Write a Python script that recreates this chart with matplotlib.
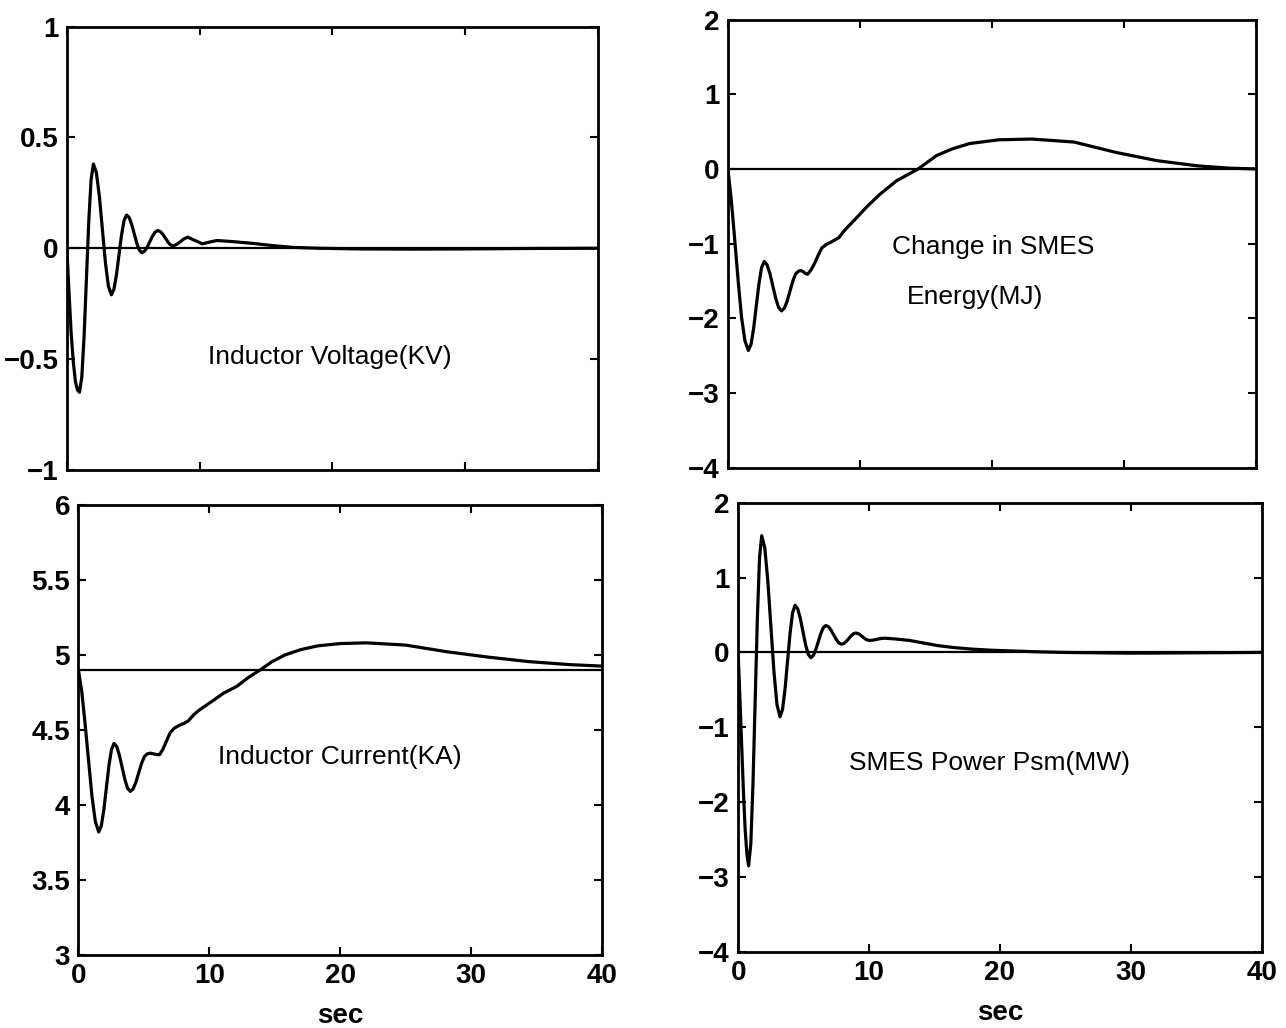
import matplotlib
matplotlib.use("Agg")
import matplotlib.pyplot as plt

plt.rcParams['font.family'] = ['Liberation Sans', 'DejaVu Sans']

# Inductor voltage (kV)
t_volt = [0, 0.16, 0.32, 0.48, 0.64, 0.8, 0.95,
          1.125, 1.3, 1.475, 1.65, 1.825, 2.0,
          2.225, 2.45, 2.675, 2.9, 3.125, 3.35,
          3.542, 3.733, 3.925, 4.117, 4.308, 4.5,
          4.692, 4.883, 5.075, 5.267, 5.458, 5.65,
          5.85, 6.05, 6.25, 6.45, 6.65, 6.85,
          7.04, 7.23, 7.43, 7.62, 7.81, 8.0,
          8.28, 8.55, 8.83, 9.1, 9.65, 10.2, 10.75, 11.3,
          12.5, 14, 15.5, 17, 19, 22, 26, 30, 35, 40]
v_volt = [0, -0.2, -0.38, -0.51, -0.6, -0.64, -0.65,
          -0.581, -0.3925, -0.135, 0.1225, 0.311, 0.38,
          0.3405, 0.2325, 0.085, -0.0625, -0.1705, -0.21,
          -0.186, -0.12, -0.03, 0.06, 0.126, 0.15,
          0.139, 0.1075, 0.065, 0.0225, -0.009, -0.02,
          -0.013, 0.005, 0.03, 0.055, 0.073, 0.08,
          0.075, 0.0625, 0.045, 0.0275, 0.015, 0.01,
          0.018, 0.03, 0.043, 0.05, 0.035, 0.02, 0.028, 0.035,
          0.03, 0.022, 0.012, 0.004, 0.0, -0.003, -0.004, -0.003, -0.001, 0]

# Change in SMES energy (MJ)
t_energy = [0, 0.26, 0.52, 0.78, 1.03, 1.29, 1.55,
            1.75, 1.95, 2.15, 2.35, 2.55, 2.75,
            2.968, 3.187, 3.405, 3.623, 3.842, 4.06,
            4.273, 4.487, 4.7, 4.913, 5.127, 5.34,
            5.52, 5.7, 5.87, 6.03, 6.3, 6.6, 6.85, 7.1, 7.45, 7.8, 8.1, 8.4,
            8.7, 9.0, 9.6, 10.5, 11.5, 12.75, 14.4, 15.8, 17, 18.3, 20.5, 23,
            26.2, 29.4, 32.5, 35.6, 38, 40]
v_energy = [0, -0.42, -0.95, -1.5, -1.98, -2.3, -2.43,
            -2.35, -2.1325, -1.835, -1.5375, -1.32, -1.24,
            -1.284, -1.405, -1.57, -1.735, -1.856, -1.9,
            -1.865, -1.7675, -1.635, -1.5025, -1.405, -1.37,
            -1.36, -1.375, -1.4, -1.41, -1.35, -1.25, -1.15, -1.06, -1.01, -0.98, -0.95, -0.92,
            -0.85, -0.79, -0.68, -0.51, -0.34, -0.16, 0.0, 0.18, 0.27, 0.34, 0.39, 0.40,
            0.36, 0.22, 0.11, 0.04, 0.01, 0.0]

# Inductor current (kA)
t_curr = [0, 0.26, 0.52, 0.78, 1.03, 1.29, 1.55,
          1.745, 1.94, 2.135, 2.33, 2.525, 2.72,
          2.927, 3.133, 3.34, 3.547, 3.753, 3.96,
          4.177, 4.393, 4.61, 4.827, 5.043, 5.26,
          5.5, 5.75, 6.0, 6.2, 6.45, 6.7, 7.0, 7.3, 7.7, 8.1, 8.4, 8.8, 9.2,
          10.2, 11.1, 12.1, 13, 13.9, 14.8, 15.8, 17, 18.3, 20, 22, 25, 28.2,
          31.3, 34.4, 37.5, 40]
v_curr = [4.9, 4.75, 4.53, 4.29, 4.06, 3.89, 3.82,
          3.86, 3.9675, 4.115, 4.2625, 4.37, 4.41,
          4.389, 4.33, 4.25, 4.17, 4.111, 4.09,
          4.107, 4.1525, 4.215, 4.2775, 4.323, 4.34,
          4.345, 4.34, 4.335, 4.335, 4.37, 4.42, 4.48, 4.51, 4.53, 4.545, 4.56, 4.6, 4.63,
          4.69, 4.745, 4.79, 4.85, 4.9, 4.955, 5.0, 5.035, 5.06, 5.075, 5.08, 5.065, 5.02,
          4.985, 4.955, 4.935, 4.925]
curr_ref = 4.9

# SMES power Psm (MW)
t_pow = [0, 0.13, 0.27, 0.4, 0.53, 0.67, 0.8,
         0.967, 1.133, 1.3, 1.467, 1.633, 1.8,
         2.033, 2.267, 2.5, 2.733, 2.967, 3.2,
         3.392, 3.583, 3.775, 3.967, 4.158, 4.35,
         4.55, 4.75, 4.95, 5.15, 5.35, 5.55,
         5.742, 5.933, 6.125, 6.317, 6.508, 6.7,
         6.9, 7.1, 7.3, 7.5, 7.7, 7.9,
         8.083, 8.267, 8.45, 8.633, 8.817, 9.0,
         9.25, 9.5, 9.75, 10.0, 10.3, 10.6, 10.9, 11.2,
         12, 13.1, 14.2, 15.3, 16.5, 17.8, 19.3, 20.9, 23, 25, 30, 35, 40]
v_pow = [0, -0.6, -1.25, -1.85, -2.35, -2.7, -2.85,
         -2.555, -1.7475, -0.645, 0.4575, 1.265, 1.56,
         1.398, 0.955, 0.35, -0.255, -0.698, -0.86,
         -0.76, -0.4875, -0.115, 0.2575, 0.53, 0.63,
         0.583, 0.455, 0.28, 0.105, -0.023, -0.07,
         -0.041, 0.0375, 0.145, 0.2525, 0.331, 0.36,
         0.343, 0.2975, 0.235, 0.1725, 0.127, 0.11,
         0.12, 0.1475, 0.185, 0.2225, 0.25, 0.26,
         0.245, 0.21, 0.175, 0.16, 0.164, 0.175, 0.186, 0.19,
         0.18, 0.16, 0.125, 0.09, 0.065, 0.045, 0.03, 0.02, 0.008, 0.0, -0.01, -0.005, 0]

x_ticks = [0, 10, 20, 30, 40]

fig = plt.figure(figsize=(12.86, 10.28), dpi=100)
ax_v = fig.add_axes([0.052, 0.543, 0.413, 0.431])
ax_e = fig.add_axes([0.566, 0.545, 0.411, 0.436])
ax_i = fig.add_axes([0.061, 0.071, 0.407, 0.438])
ax_p = fig.add_axes([0.574, 0.074, 0.407, 0.437])


def style(ax, ylim, yticks, ylabels, show_x):
    ax.set_xlim(0, 40)
    ax.set_ylim(*ylim)
    ax.set_xticks(x_ticks)
    ax.set_yticks(yticks)
    ax.set_yticklabels(ylabels)
    if not show_x:
        ax.set_xticklabels([])
    ax.tick_params(direction='in', top=True, right=True, length=6, width=1.5,
                   labelsize=20, pad=6)
    for lbl in ax.get_xticklabels() + ax.get_yticklabels():
        lbl.set_fontweight('bold')
    for sp in ax.spines.values():
        sp.set_linewidth(2)


ax_v.plot(t_volt, v_volt, color='black', lw=2.3)
ax_v.plot([0, 40], [0, 0], color='black', lw=1.6)
style(ax_v, (-1, 1), [-1, -0.5, 0, 0.5, 1], ['\u22121', '\u22120.5', '0', '0.5', '1'], False)
ax_v.text(19.8, -0.49, 'Inductor Voltage(KV)', ha='center', va='center', fontsize=19)

ax_e.plot(t_energy, v_energy, color='black', lw=2.3)
ax_e.plot([0, 40], [0, 0], color='black', lw=1.6)
style(ax_e, (-4, 2), [-4, -3, -2, -1, 0, 1, 2], ['\u22124', '\u22123', '\u22122', '\u22121', '0', '1', '2'], False)
ax_e.text(20.1, -1.04, 'Change in SMES', ha='center', va='center', fontsize=19)
ax_e.text(18.7, -1.71, 'Energy(MJ)', ha='center', va='center', fontsize=19)

ax_i.plot(t_curr, v_curr, color='black', lw=2.3)
ax_i.plot([0, 40], [curr_ref, curr_ref], color='black', lw=1.6)
style(ax_i, (3, 6), [3, 3.5, 4, 4.5, 5, 5.5, 6], ['3', '3.5', '4', '4.5', '5', '5.5', '6'], True)
ax_i.text(20, 4.32, 'Inductor Current(KA)', ha='center', va='center', fontsize=19)
ax_i.set_xlabel('sec', fontsize=20, fontweight='bold', labelpad=10)

ax_p.plot(t_pow, v_pow, color='black', lw=2.3)
ax_p.plot([0, 40], [0, 0], color='black', lw=1.6)
style(ax_p, (-4, 2), [-4, -3, -2, -1, 0, 1, 2], ['\u22124', '\u22123', '\u22122', '\u22121', '0', '1', '2'], True)
ax_p.text(19.2, -1.47, 'SMES Power Psm(MW)', ha='center', va='center', fontsize=19)
ax_p.set_xlabel('sec', fontsize=20, fontweight='bold', labelpad=10)

fig.savefig('out.png', dpi=100)
